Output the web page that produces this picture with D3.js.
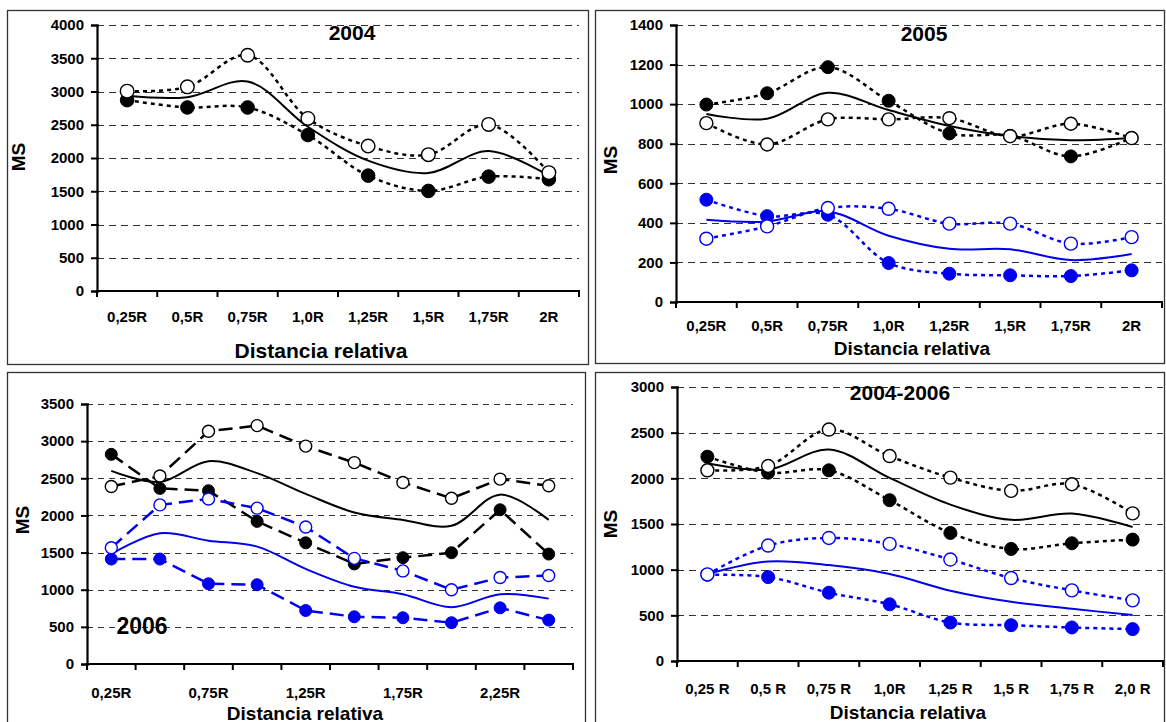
<!DOCTYPE html>
<html><head><meta charset="utf-8">
<script src="https://cdn.jsdelivr.net/npm/d3@7"></script>
<style>
html,body{margin:0;padding:0;background:#fff;}
svg{display:block;font-family:"Liberation Sans",Arial,sans-serif;font-weight:bold;}
</style></head><body>
<svg id="c" width="1166" height="722"></svg>
<script>
// ---------- DATA ----------
const cats8 = ["0,25R","0,5R","0,75R","1,0R","1,25R","1,5R","1,75R","2R"];
const cats2006 = ["0,25R","0,5R","0,75R","1,0R","1,25R","1,5R","1,75R","2,0R","2,25R","2,5R"];
const labels2006 = ["0,25R","0,75R","1,25R","1,75R","2,25R"];
const cats0406 = ["0,25 R","0,5 R","0,75 R","1,0R","1,25 R","1,5 R","1,75 R","2,0 R"];

const ticks2004 = [0,500,1000,1500,2000,2500,3000,3500,4000];
const ticks2005 = [0,200,400,600,800,1000,1200,1400];
const ticks2006 = [0,500,1000,1500,2000,2500,3000,3500];
const ticks0406 = [0,500,1000,1500,2000,2500,3000];

// 2004
const y2004Open   = [3005,3070,3545,2595,2180,2050,2505,1780];
const y2004Filled = [2870,2760,2760,2345,1735,1505,1720,1680];
const y2004Mean   = [2935,2915,3150,2470,1960,1775,2105,1730];

// 2005
const y2005BlackFilled = [998,1055,1187,1017,852,840,736,830];
const y2005BlackOpen   = [904,796,923,923,929,838,901,828];
const y2005BlackMean   = [950,926,1057,970,890,839,818,829];
const y2005BlueFilled  = [517,434,441,197,143,135,131,160];
const y2005BlueOpen    = [320,382,475,471,396,396,295,328];
const y2005BlueMean    = [416,407,458,335,269,266,212,243];

// 2006
const y2006BlackOpen   = [2390,2530,3133,3209,2933,2711,2444,2231,2489,2400];
const y2006BlackFilled = [2822,2364,2333,1920,1631,1347,1431,1498,2076,1480];
const y2006BlackMean   = [2600,2450,2730,2570,2290,2040,1940,1860,2280,1940];
const y2006BlueOpen    = [1564,2142,2222,2098,1844,1422,1253,1000,1164,1191];
const y2006BlueFilled  = [1413,1413,1080,1067,720,636,622,556,756,591];
const y2006BlueMean    = [1480,1760,1660,1580,1280,1040,940,765,940,880];

// 2004-2006
const y0406BlackFilled = [2237,2062,2088,1761,1402,1227,1289,1329];
const y0406BlackOpen   = [2088,2135,2534,2244,2008,1863,1935,1616];
const y0406BlackMean   = [2165,2095,2315,2005,1712,1546,1614,1468];
const y0406BlueOpen    = [948,1264,1347,1282,1111,908,773,664];
const y0406BlueFilled  = [944,919,748,621,421,392,367,349];
const y0406BlueMean    = [950,1090,1050,953,770,648,572,503];

// ---------- DRAW ----------
const BLACK = "#000", BLUE = "#0000ee";
const svg = d3.select("#c");
const smooth = d3.curveCatmullRom.alpha(0.5);

function panel(p){
  const g = svg.append("g");
  // frame
  g.append("rect").attr("x",p.box[0]+0.5).attr("y",p.box[1]+0.5)
    .attr("width",p.box[2]-p.box[0]).attr("height",p.box[3]-p.box[1])
    .attr("fill","none").attr("stroke","#333").attr("stroke-width",1.3);
  const x = d3.scaleBand().domain(p.cats).range([p.x0,p.x1]).padding(0);
  const y = d3.scaleLinear().domain([0,p.ymax]).range([p.yb,p.yt]);
  const cx = c => x(c) + x.bandwidth()/2;
  // grid
  g.append("g").selectAll("line").data(p.ticks.filter(t=>t>0)).join("line")
    .attr("x1",p.x0).attr("x2",p.gx1||p.x1).attr("y1",d=>Math.round(y(d))+0.5).attr("y2",d=>Math.round(y(d))+0.5)
    .attr("stroke","#333").attr("stroke-width",1).attr("stroke-dasharray",p.gridDash||"7,5");
  // y axis
  const ya = d3.axisLeft(y).tickValues(p.ticks).tickSize(6).tickPadding(7).tickFormat(d3.format("d"));
  const yg = g.append("g").attr("transform",`translate(${p.x0},0)`).call(ya);
  yg.select(".domain").attr("stroke","#000").attr("stroke-width",2.2);
  yg.selectAll(".tick line").attr("stroke","#000").attr("stroke-width",2).attr("x2",-6).attr("x1",2);
  yg.selectAll("text").attr("font-size",p.fs).attr("font-weight","bold").attr("fill","#000")
    .attr("font-family","Liberation Sans, Arial, sans-serif");
  // x axis
  const xb = d3.scaleLinear().domain([0,p.cats.length]).range([p.x0,p.x1]);
  const xg = g.append("g");
  xg.append("line").attr("x1",p.x0-1).attr("x2",p.x1+1).attr("y1",p.yb).attr("y2",p.yb)
    .attr("stroke","#000").attr("stroke-width",2.2);
  xg.selectAll("line.t").data(d3.range(p.cats.length+1)).join("line").attr("class","t")
    .attr("x1",d=>xb(d)).attr("x2",d=>xb(d)).attr("y1",p.yb-1).attr("y2",p.yb+6)
    .attr("stroke","#000").attr("stroke-width",2);
  xg.selectAll("text").data(p.cats.filter(c=>p.shown.includes(c))).join("text")
    .attr("x",d=>cx(d)).attr("y",p.ly).attr("text-anchor","middle").attr("dominant-baseline","central")
    .attr("font-size",p.fs).text(d=>d);
  // axis titles
  g.append("text").attr("x",p.axx).attr("y",p.axy).attr("text-anchor","middle")
    .attr("dominant-baseline","central").attr("font-size",p.afs).text("Distancia relativa");
  g.append("text").attr("transform",`translate(${p.msx},${p.msy}) rotate(-90)`).attr("text-anchor","middle")
    .attr("dominant-baseline","central").attr("font-size",19).text("MS");
  g.append("text").attr("x",p.tx).attr("y",p.ty).attr("text-anchor","middle")
    .attr("dominant-baseline","central").attr("font-size",p.tfs).text(p.title);
  // series
  const lines = p.series;
  lines.forEach(s=>{
    const gen = d3.line().x((d,i)=>cx(p.cats[i])).y(d=>y(d)).curve(s.curve);
    g.append("path").attr("d",gen(s.values)).attr("fill","none").attr("stroke",s.color)
      .attr("stroke-width",s.w).attr("stroke-dasharray",s.dash||null);
  });
  // markers: filled first, then open
  lines.filter(s=>s.marker==="filled").forEach(s=>{
    g.append("g").selectAll("circle").data(s.values).join("circle")
      .attr("cx",(d,i)=>cx(p.cats[i])).attr("cy",d=>y(d)).attr("r",p.r)
      .attr("fill",s.color).attr("stroke",s.color).attr("stroke-width",1);
  });
  lines.filter(s=>s.marker==="open").forEach(s=>{
    g.append("g").selectAll("circle").data(s.values).join("circle")
      .attr("cx",(d,i)=>cx(p.cats[i])).attr("cy",d=>y(d)).attr("r",p.r)
      .attr("fill","#fff").attr("stroke",s.color).attr("stroke-width",1.4);
  });
}

const DOT = "4,4", DASH = "14,7";
panel({box:[7,10,588,364], cats:cats8, shown:cats8, x0:97, x1:579, yt:25, yb:291, ymax:4000, ticks:ticks2004,
  ly:316, axx:321, axy:350, msx:18, msy:157, tx:352, ty:32, title:"2004", fs:15, afs:21, tfs:21, r:6.8,
  series:[
    {values:y2004Open, color:BLACK, dash:DOT, w:2.5, curve:smooth, marker:"open"},
    {values:y2004Filled, color:BLACK, dash:DOT, w:2.5, curve:smooth, marker:"filled"},
    {values:y2004Mean, color:BLACK, w:2, curve:smooth}
  ]});
panel({box:[595,10,1164,363], cats:cats8, shown:cats8, x0:676, x1:1162, yt:25, yb:302, ymax:1400, ticks:ticks2005,
  ly:325, axx:912, axy:348, msx:610, msy:160, tx:924, ty:33, title:"2005", fs:15, afs:19, tfs:21, r:6.5,
  series:[
    {values:y2005BlackFilled, color:BLACK, dash:DOT, w:2.5, curve:smooth, marker:"filled"},
    {values:y2005BlackOpen, color:BLACK, dash:DOT, w:2.5, curve:smooth, marker:"open"},
    {values:y2005BlackMean, color:BLACK, w:2, curve:smooth},
    {values:y2005BlueFilled, color:BLUE, dash:DOT, w:2.5, curve:smooth, marker:"filled"},
    {values:y2005BlueOpen, color:BLUE, dash:DOT, w:2.5, curve:smooth, marker:"open"},
    {values:y2005BlueMean, color:BLUE, w:2, curve:smooth}
  ]});
panel({box:[7,372,585,740], cats:cats2006, shown:labels2006, x0:87, x1:573, yt:404, yb:664, ymax:3500, ticks:ticks2006,
  ly:692, axx:305, axy:713, msx:22, msy:520, tx:142, ty:626, title:"2006", fs:15, afs:19, tfs:23, r:6,
  gridDash:"6,5",
  series:[
    {values:y2006BlackOpen, color:BLACK, dash:DASH, w:2.5, curve:d3.curveLinear, marker:"open"},
    {values:y2006BlackFilled, color:BLACK, dash:DASH, w:2.5, curve:d3.curveLinear, marker:"filled"},
    {values:y2006BlackMean, color:BLACK, w:2, curve:smooth},
    {values:y2006BlueOpen, color:BLUE, dash:DASH, w:2.5, curve:d3.curveLinear, marker:"open"},
    {values:y2006BlueFilled, color:BLUE, dash:DASH, w:2.5, curve:d3.curveLinear, marker:"filled"},
    {values:y2006BlueMean, color:BLUE, w:2, curve:smooth}
  ]});
panel({box:[595,372,1164,740], cats:cats0406, shown:cats0406, x0:677, x1:1163, yt:387, yb:661, ymax:3000, ticks:ticks0406,
  ly:688, axx:908, axy:712, msx:610, msy:524, tx:900, ty:392, title:"2004-2006", fs:15, afs:19, tfs:21, r:6.5,
  series:[
    {values:y0406BlackFilled, color:BLACK, dash:DOT, w:2.5, curve:smooth, marker:"filled"},
    {values:y0406BlackOpen, color:BLACK, dash:DOT, w:2.5, curve:smooth, marker:"open"},
    {values:y0406BlackMean, color:BLACK, w:2, curve:smooth},
    {values:y0406BlueOpen, color:BLUE, dash:DOT, w:2.5, curve:smooth, marker:"open"},
    {values:y0406BlueFilled, color:BLUE, dash:DOT, w:2.5, curve:smooth, marker:"filled"},
    {values:y0406BlueMean, color:BLUE, w:2, curve:smooth}
  ]});
</script>
</body></html>
